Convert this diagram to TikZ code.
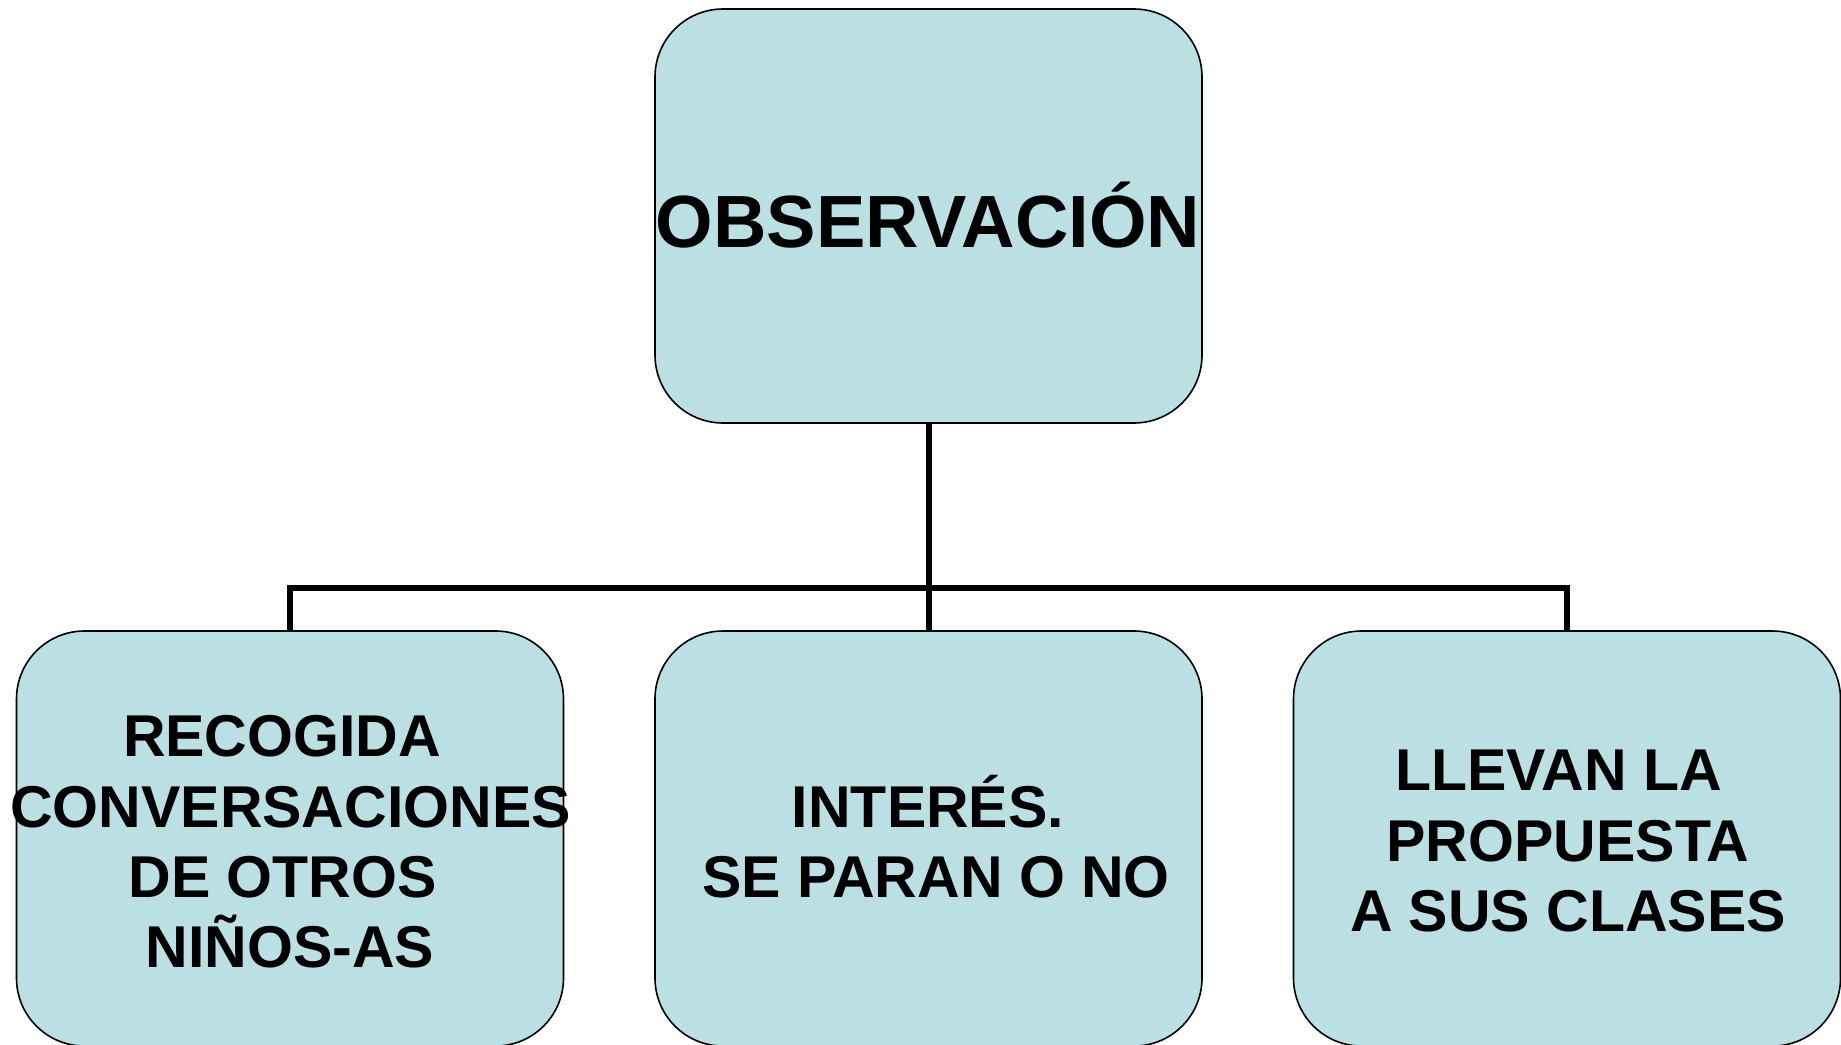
\documentclass[tikz,border=0pt]{standalone}
\usepackage{fontspec}
\setmainfont{Liberation Sans}
\definecolor{boxfill}{RGB}{187,224,227}
\begin{document}
\begin{tikzpicture}[x=1pt,y=-1pt,
  box/.style={draw=black,line width=1.6pt,fill=boxfill,rounded corners=68pt,
    minimum width=547pt,minimum height=#1,inner sep=0pt,outer sep=0pt},
  big/.style={font=\fontsize{74}{80}\selectfont\bfseries,anchor=base,inner sep=0pt},
  txt/.style={font=\fontsize{59}{70}\selectfont\bfseries,anchor=base,inner sep=0pt},
  conn/.style={line width=6pt,black}]
\useasboundingbox (0,0) rectangle (1841,1044);
\node[box=414pt] (top) at (928.5,216) {};
\node[box=415pt] (left) at (290,838.5) {};
\node[box=415pt] (mid) at (928.5,838.5) {};
\node[box=415pt] (right) at (1567,838.5) {};
\coordinate (bus) at (928.5,587.5);
\draw[conn] (top.south) -- (mid.north);
\draw[conn] (left.north) -- (left.north |- bus) -- (right.north |- bus) -- (right.north);
\node[big] (t0) at (928,247) {OBSERVACIÓN};
\node[txt] (l1) at (282,756) {RECOGIDA};
\node[txt] (l2) at (290.5,827) {CONVERSACIONES};
\node[txt] (l3) at (282.5,897) {DE OTROS};
\node[txt] (l4) at (290,967) {NIÑOS-AS};
\node[txt] (m1) at (928,827) {INTERÉS.};
\node[txt] (m2) at (936,897) {SE PARAN O NO};
\node[txt] (r1) at (1558.5,790) {LLEVAN LA};
\node[txt] (r2) at (1568,861) {PROPUESTA};
\node[txt] (r3) at (1568,931) {A SUS CLASES};
\end{tikzpicture}
\end{document}
